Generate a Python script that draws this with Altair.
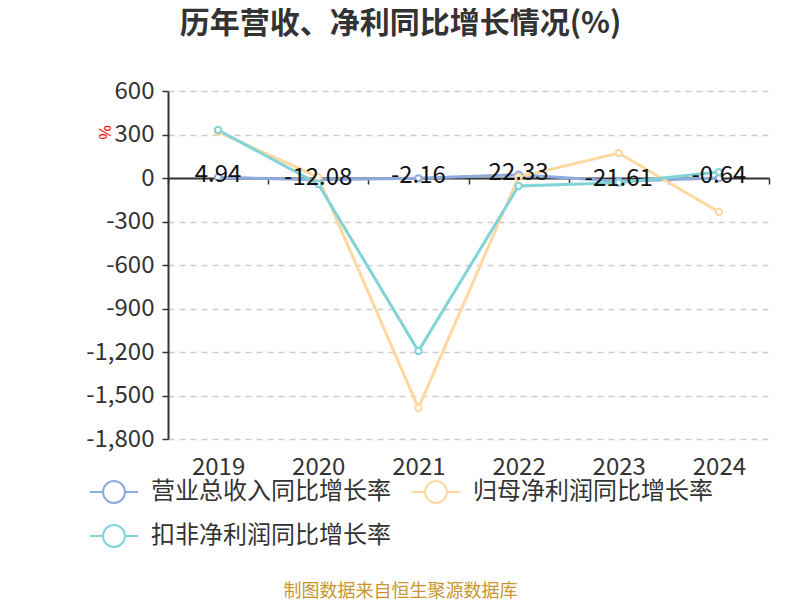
import altair as alt
import pandas as pd

years = ["2019", "2020", "2021", "2022", "2023", "2024"]
series_names = ["营业总收入同比增长率", "归母净利润同比增长率", "扣非净利润同比增长率"]
revenue = [4.94, -12.08, -2.16, 22.33, -21.61, -0.64]
net_profit = [318, 6, -1586, 6, 172, -234]
deducted_profit = [331, -41, -1193, -55, -33, 41]
colors = ["#8dabdd", "#fed8a0", "#80d4d7"]

rows = []
for name, vals in zip(series_names, [revenue, net_profit, deducted_profit]):
    for y, v in zip(years, vals):
        rows.append({"year": y, "series": name, "value": v})
df = pd.DataFrame(rows)
rev_df = pd.DataFrame({"year": years, "value": revenue, "label": [f"{v:.2f}" for v in revenue]})

font = "Noto Sans CJK SC"

x_enc = alt.X(
    "year:N",
    sort=years,
    scale=alt.Scale(paddingInner=0, paddingOuter=0),
    axis=alt.Axis(
        orient="bottom",
        offset=-261,
        domain=True,
        domainColor="#333333",
        domainWidth=2,
        ticks=True,
        tickBand="extent",
        tickColor="#333333",
        tickSize=6,
        tickWidth=1.5,
        labels=True,
        labelPadding=271,
        labelFontSize=24,
        labelColor="#333333",
        labelFont=font,
        labelAngle=0,
        grid=False,
        title="制图数据来自恒生聚源数据库",
        titleX=232,
        titleY=413,
        titleColor="#c8962e",
        titleFontSize=18,
        titleFontWeight="normal",
        titleFont=font,
        titleAlign="center",
        titleBaseline="middle",
    ),
)

y_enc = alt.Y(
    "value:Q",
    scale=alt.Scale(domain=[-1800, 600], nice=False, zero=False),
    axis=alt.Axis(
        values=[-1800, -1500, -1200, -900, -600, -300, 0, 300, 600],
        labelExpr="replace(format(datum.value, ',.0f'), '\u2212', '-')",
        domainColor="#333333",
        domainWidth=2,
        tickColor="#333333",
        tickSize=6,
        tickWidth=1.5,
        labelFontSize=24,
        labelColor="#333333",
        labelFont=font,
        labelPadding=8,
        grid=True,
        gridColor="#cccccc",
        gridDash=[6, 5],
        gridWidth=1.5,
        title="%",
        titleColor="#ff0000",
        titleFontSize=16,
        titleFontWeight="normal",
        titleX=-63,
        titleY=41,
        titleAngle=270,
        titleAlign="center",
        titleBaseline="middle",
    ),
)

color_enc = alt.Color(
    "series:N",
    scale=alt.Scale(domain=series_names, range=colors),
    sort=series_names,
    legend=alt.Legend(
        orient="none",
        legendX=-66,
        legendY=389,
        direction="horizontal",
        columns=2,
        columnPadding=16,
        rowPadding=14,
        title=None,
        symbolType="M-2.2,0L-1,0M1,0L2.2,0M-1,0A1,1,0,1,1,1,0A1,1,0,1,1,-1,0Z",
        symbolSize=484,
        symbolStrokeWidth=2,
        symbolFillColor="white",
        labelFontSize=24,
        labelColor="#333333",
        labelFont=font,
        labelOffset=25,
        labelLimit=400,
    ),
)

lines = alt.Chart(df).mark_line(strokeWidth=3).encode(
    x=x_enc, y=y_enc, color=color_enc
)
points = alt.Chart(df).mark_point(
    filled=False, fill="white", size=40, strokeWidth=2, opacity=1
).encode(x=x_enc, y=y_enc, color=color_enc)

labels = alt.Chart(rev_df).mark_text(
    fontSize=24, color="#111111", font=font, dy=-2, align="center", baseline="middle"
).encode(x=alt.X("year:N", sort=years), y="value:Q", text="label:N")

chart = alt.layer(lines, points, labels).properties(
    width=601,
    height=348,
    autosize=alt.AutoSizeParams(type="none"),
    padding={"left": 160, "top": 83, "right": 23, "bottom": 160},
    title=alt.Title(
        "历年营收、净利同比增长情况(%)",
        fontSize=30,
        fontWeight="bold",
        color="#333333",
        font=font,
        anchor="middle",
        dx=-68,
        offset=40,
    ),
).configure_view(stroke=None)

chart.save("out.html", embed_options={"renderer": "svg", "actions": False})
